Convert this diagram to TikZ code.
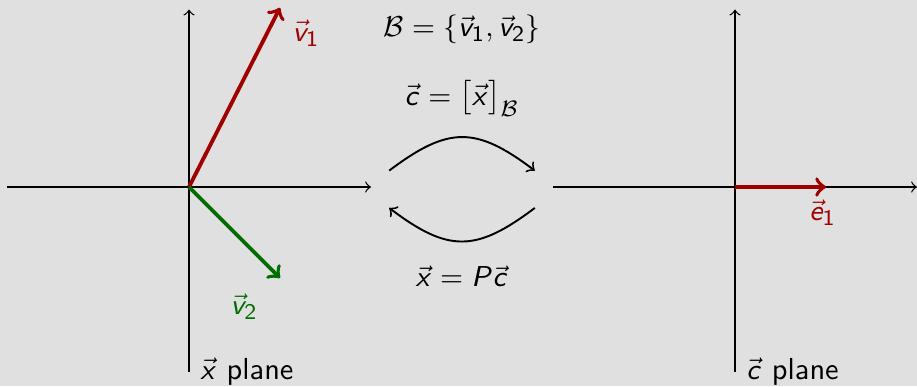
\documentclass[tikz,border=0pt]{standalone}
\usepackage{amsmath}
\usepackage{tikz}
\usetikzlibrary{positioning}
\DeclareSymbolFont{sfletters}{OT1}{cmss}{m}{sl}
\DeclareSymbolFont{sfupright}{OT1}{cmss}{m}{n}
\DeclareMathSymbol{c}{\mathalpha}{sfletters}{`c}
\DeclareMathSymbol{e}{\mathalpha}{sfletters}{`e}
\DeclareMathSymbol{v}{\mathalpha}{sfletters}{`v}
\DeclareMathSymbol{x}{\mathalpha}{sfletters}{`x}
\DeclareMathSymbol{P}{\mathalpha}{sfletters}{`P}
\DeclareMathSymbol{1}{\mathalpha}{sfupright}{`1}
\DeclareMathSymbol{2}{\mathalpha}{sfupright}{`2}
\definecolor{vecred}{RGB}{160,0,0}
\definecolor{vecgreen}{RGB}{0,110,0}
\definecolor{bggray}{RGB}{224,224,224}

\begin{document}
\begin{tikzpicture}[
  font=\sffamily\fontsize{9.5}{11}\selectfont,
  axis/.style={->, thin},
  basisvec/.style={->, very thick},
  mapping/.style={->, semithick}
]
  \fill[bggray] (-2.077,-2.187) rectangle (8.0,2.055);
  \useasboundingbox (-2.077,-2.187) rectangle (8.0,2.055);

  % x plane
  \coordinate (xo) at (0,0);
  \coordinate (xl) at (-2,0);
  \coordinate (xr) at (2,0);
  \coordinate (xb) at (0,-2.03);
  \coordinate (xt) at (0,1.95);
  \draw[axis] (xl) -- (xr);
  \draw[axis] (xb) -- (xt);
  \coordinate (v1) at (1,1.97);
  \coordinate (v2) at (1,-1);
  \draw[basisvec, vecred] (xo) -- (v1) node[below right, text=vecred] (v1lbl) {$\vec{v}_1$};
  \draw[basisvec, vecgreen] (xo) -- (v2) node[below left, xshift=-3pt, yshift=-1pt, text=vecgreen] (v2lbl) {$\vec{v}_2$};
  \node[right] (xplane) at (xb) {$\vec{x}$ plane};

  % c plane
  \coordinate (co) at (6,0);
  \coordinate (cl) at (4,0);
  \coordinate (cr) at (8,0);
  \coordinate (cb) at (6,-2.03);
  \coordinate (ct) at (6,1.95);
  \draw[axis] (cl) -- (cr);
  \draw[axis] (cb) -- (ct);
  \coordinate (e1) at (7,0);
  \draw[basisvec, vecred] (co) -- (e1) node[below, xshift=-1pt, text=vecred] (e1lbl) {$\vec{e}_1$};
  \node[right] (cplane) at (cb) {$\vec{c}$ plane};

  % change of coordinates
  \node (basis) at (3,1.73) {$\mathcal{B}=\{\vec{v}_1,\vec{v}_2\}$};
  \node (tocoord) at (3,0.97) {$\vec{c}=\bigl[\vec{x}\bigr]_{\mathcal{B}}$};
  \node (fromcoord) at (3,-0.98) {$\vec{x}=P\vec{c}$};
  \coordinate (ta) at (2.2,0.18);
  \coordinate (tb) at (3.8,0.18);
  \coordinate (ba) at (3.8,-0.23);
  \coordinate (bb) at (2.2,-0.23);
  \draw[mapping] (ta) .. controls (2.85,0.67) and (3.15,0.67) .. (tb);
  \draw[mapping] (ba) .. controls (3.15,-0.72) and (2.85,-0.72) .. (bb);
\end{tikzpicture}
\end{document}
